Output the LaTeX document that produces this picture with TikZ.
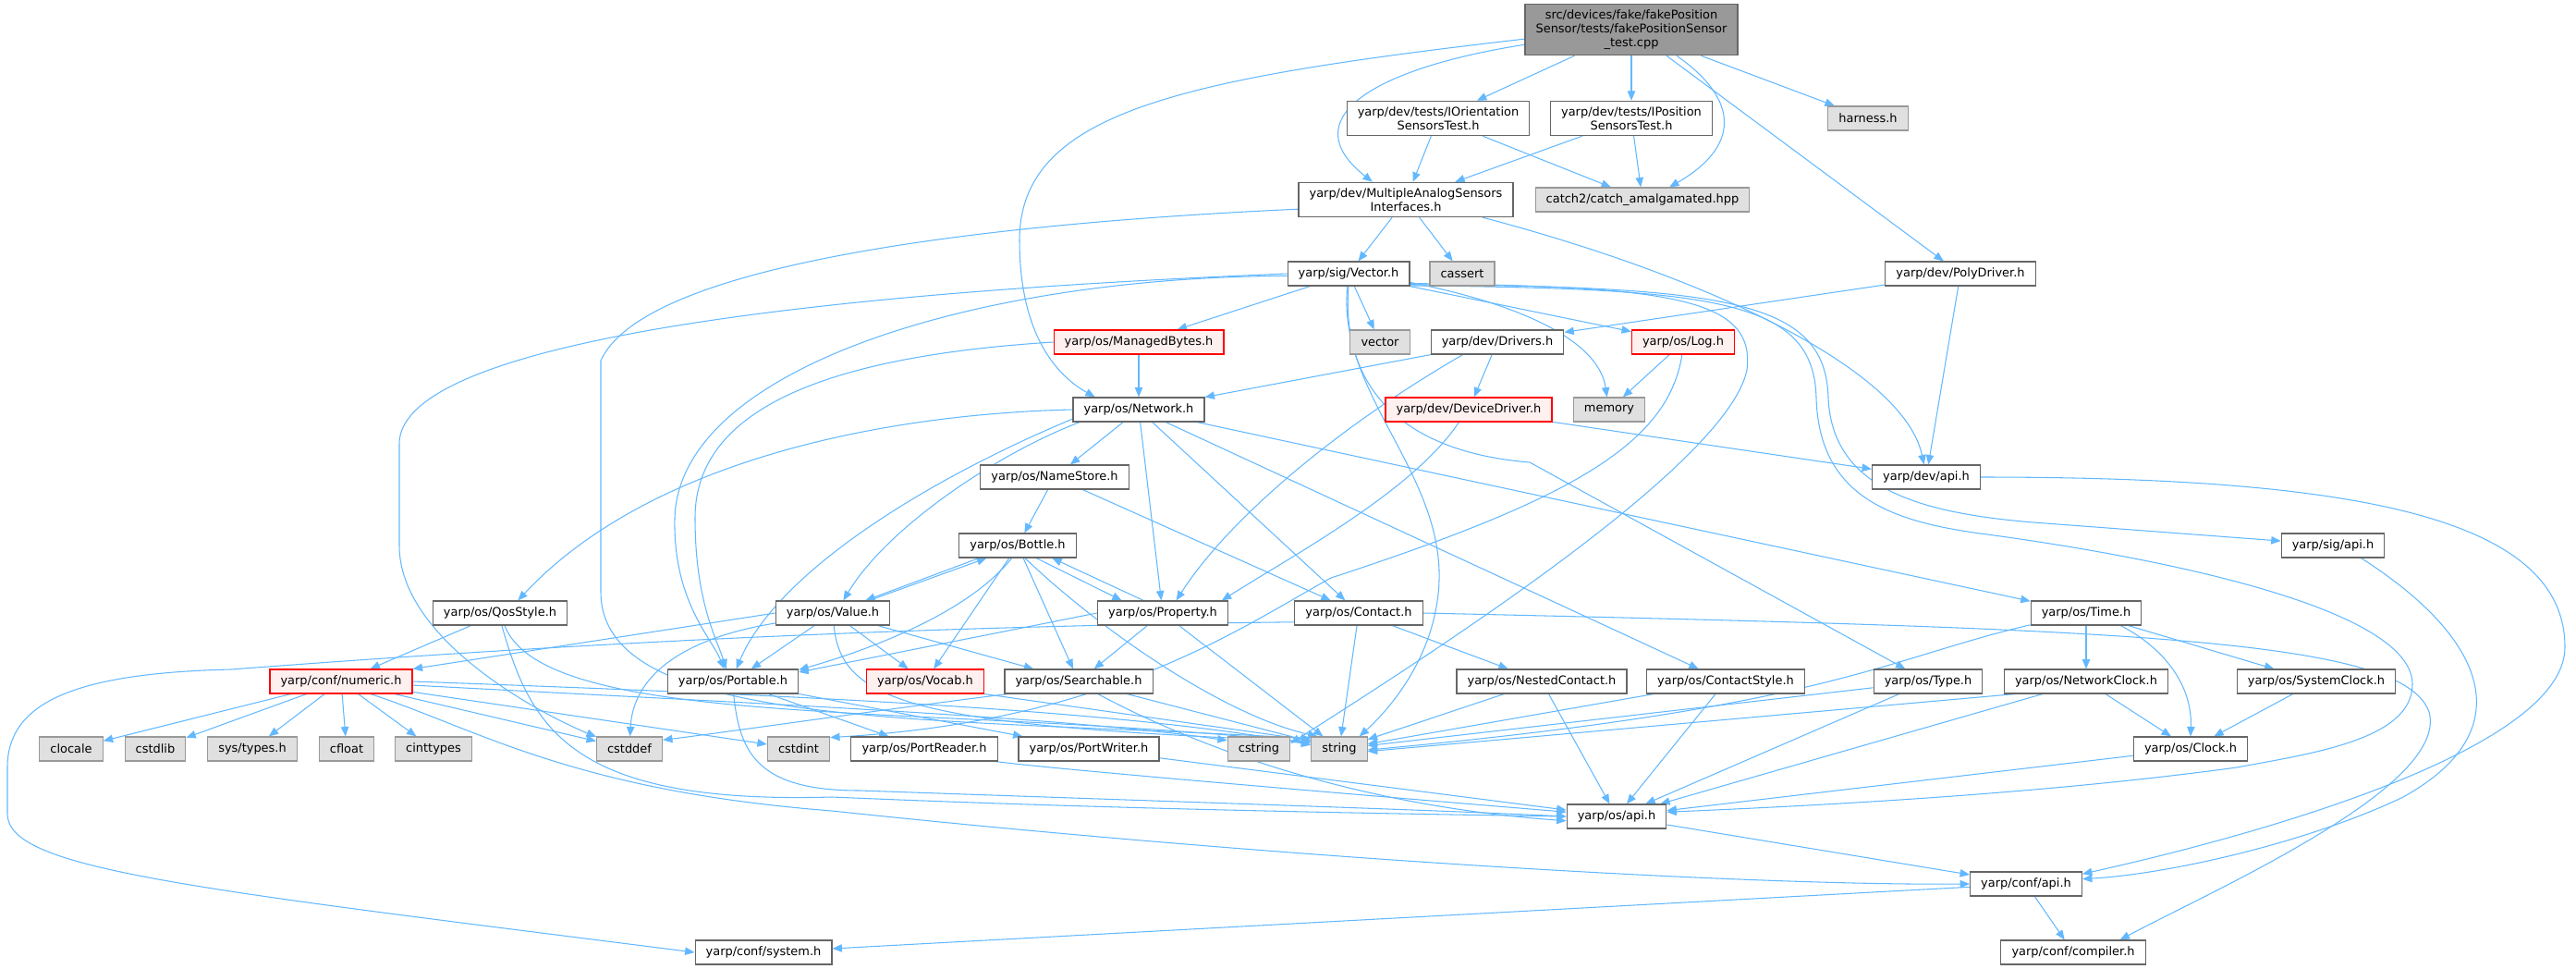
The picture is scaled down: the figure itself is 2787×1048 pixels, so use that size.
\documentclass[tikz,border=0pt]{standalone}
\usepackage{fontspec}
\setmainfont{DejaVu Sans}
\usepackage{tikz}
\usetikzlibrary{arrows.meta,backgrounds}
\definecolor{gris40}{HTML}{666666}
\definecolor{gris60}{HTML}{999999}
\definecolor{gris88}{HTML}{E0E0E0}
\definecolor{rougepale}{HTML}{FFF0F0}
\definecolor{bleuacier}{HTML}{63B8FF}
\tikzset{
  incnode/.style = {rectangle, align=center, inner xsep=2.9mm, inner ysep=1.5mm,
    minimum height=6.5mm, line width=0.8pt, font=\fontsize{9.2}{10.9}\selectfont},
  inc_n/.style = {incnode, draw=gris40, fill=white},% en-tete yarp
  inc_s/.style = {incnode, draw=gris60, fill=gris88},% en-tete systeme
  inc_r/.style = {incnode, draw=red, fill=rougepale},% en-tete tronque
  inc_top/.style = {incnode, draw=gris40, fill=gris60},% fichier source
  dep/.style = {draw=bleuacier, line width=0.75pt,
    -{Triangle[length=2.6mm,width=2.1mm]}}% inclusion
}
\begin{document}
\begin{tikzpicture}[x=0.25mm,y=-0.25mm]
        \useasboundingbox (0,0) rectangle (2787,1048);
        \node [inc_top] (root) at (1765,32) {src/devices/fake/fakePosition\\Sensor/tests/fakePositionSensor\\\_test.cpp};
        \node [inc_n] (iori) at (1556,128) {yarp/dev/tests/IOrientation\\SensorsTest.h};
        \node [inc_n] (ipos) at (1765,128) {yarp/dev/tests/IPosition\\SensorsTest.h};
        \node [inc_s] (harness) at (2021,128) {harness.h};
        \node [inc_n] (masi) at (1521,216) {yarp/dev/MultipleAnalogSensors\\Interfaces.h};
        \node [inc_s] (catch) at (1777,216) {catch2/catch\_amalgamated.hpp};
        \node [inc_n] (vec) at (1459,296) {yarp/sig/Vector.h};
        \node [inc_s] (cassert) at (1582,296) {cassert};
        \node [inc_n] (poly) at (2121,296) {yarp/dev/PolyDriver.h};
        \node [inc_r] (mbytes) at (1232,370) {yarp/os/ManagedBytes.h};
        \node [inc_s] (vector) at (1493,370) {vector};
        \node [inc_n] (drivers) at (1620,370) {yarp/dev/Drivers.h};
        \node [inc_r] (log) at (1821,370) {yarp/os/Log.h};
        \node [inc_n] (net) at (1232,443) {yarp/os/Network.h};
        \node [inc_r] (devdrv) at (1589,443) {yarp/dev/DeviceDriver.h};
        \node [inc_s] (memory) at (1741,443) {memory};
        \node [inc_n] (names) at (1141,516) {yarp/os/NameStore.h};
        \node [inc_n] (devapi) at (2084,516) {yarp/dev/api.h};
        \node [inc_n] (bottle) at (1101,590) {yarp/os/Bottle.h};
        \node [inc_n] (sigapi) at (2524,590) {yarp/sig/api.h};
        \node [inc_n] (qos) at (541,663) {yarp/os/QosStyle.h};
        \node [inc_n] (value) at (901,663) {yarp/os/Value.h};
        \node [inc_n] (prop) at (1258,663) {yarp/os/Property.h};
        \node [inc_n] (contact) at (1470,663) {yarp/os/Contact.h};
        \node [inc_n] (time) at (2257,663) {yarp/os/Time.h};
        \node [inc_r] (numeric) at (369,737) {yarp/conf/numeric.h};
        \node [inc_n] (portable) at (793,737) {yarp/os/Portable.h};
        \node [inc_r] (vocab) at (1001,737) {yarp/os/Vocab.h};
        \node [inc_n] (search) at (1167,737) {yarp/os/Searchable.h};
        \node [inc_n] (nested) at (1668,737) {yarp/os/NestedContact.h};
        \node [inc_n] (cstyle) at (1867,737) {yarp/os/ContactStyle.h};
        \node [inc_n] (type) at (2086,737) {yarp/os/Type.h};
        \node [inc_n] (nclock) at (2257,737) {yarp/os/NetworkClock.h};
        \node [inc_n] (sclock) at (2506,737) {yarp/os/SystemClock.h};
        \node [inc_s] (clocale) at (77,810) {clocale};
        \node [inc_s] (cstdlib) at (168,810) {cstdlib};
        \node [inc_s] (systypes) at (273,810) {sys/types.h};
        \node [inc_s] (cfloat) at (375,810) {cfloat};
        \node [inc_s] (cinttypes) at (469,810) {cinttypes};
        \node [inc_s] (cstddef) at (681,810) {cstddef};
        \node [inc_s] (cstdint) at (864,810) {cstdint};
        \node [inc_n] (preader) at (1000,810) {yarp/os/PortReader.h};
        \node [inc_n] (pwriter) at (1178,810) {yarp/os/PortWriter.h};
        \node [inc_s] (cstring) at (1362,810) {cstring};
        \node [inc_s] (string) at (1449,810) {string};
        \node [inc_n] (clock) at (2370,810) {yarp/os/Clock.h};
        \node [inc_n] (osapi) at (1749,883) {yarp/os/api.h};
        \node [inc_n] (confapi) at (2192,956) {yarp/conf/api.h};
        \node [inc_n] (system) at (826,1030) {yarp/conf/system.h};
        \node [inc_n] (compiler) at (2243,1030) {yarp/conf/compiler.h};
        \begin{scope}[on background layer]
        \draw [dep] (root.185) .. controls (1280,85) and (1103,120) .. (1103,260) .. controls (1103,370) and (1150,410) .. (net.164);
        \draw [dep] (root.188) .. controls (1480,75) and (1400,130) .. (masi.152);
        \draw [dep] (root) -- (iori);
        \draw [dep] (root) -- (ipos);
        \draw [dep] (root.-30) .. controls (1885,110) and (1880,160) .. (catch.25);
        \draw [dep] (root) -- (harness);
        \draw [dep] (root) -- (poly);
        \draw [dep] (iori) -- (masi);
        \draw [dep] (iori) -- (catch);
        \draw [dep] (ipos) -- (masi);
        \draw [dep] (ipos) -- (catch);
        \draw [dep] (masi) -- (vec);
        \draw [dep] (masi) -- (cassert);
        \draw [dep] (masi.-13) .. controls (1850,300) and (2060,400) .. (devapi.100);
        \draw [dep] (masi.185) .. controls (1100,240) and (700,280) .. (650,390) -- (650,640) .. controls (650,790) and (1000,775) .. (string.160);
        \draw [dep] (vec) -- (mbytes);
        \draw [dep] (vec) -- (vector);
        \draw [dep] (vec) -- (log);
        \draw [dep] (vec.-8) .. controls (1650,330) and (1730,370) .. (memory.100);
        \draw [dep] (vec.west) .. controls (800,320) and (432,380) .. (432,480) -- (432,590) .. controls (432,690) and (580,770) .. (cstddef.160);
        \draw [dep] (vec.182) .. controls (1050,300) and (735,400) .. (730,560) .. controls (728,650) and (770,690) .. (portable.125);
        \draw [dep] (vec.-95) .. controls (1445,430) and (1575,520) .. (1555,650) .. controls (1545,720) and (1500,770) .. (string.32);
        \draw [dep] (vec.-90) .. controls (1450,430) and (1530,490) .. (1655,500) -- (type);
        \draw [dep] (vec.-9) .. controls (1800,310) and (1900,320) .. (1890,400) .. controls (1870,500) and (1560,700) .. (cstring.10);
        \draw [dep] (vec.-10) .. controls (1870,310) and (1975,325) .. (1978,430) .. controls (1982,530) and (2080,555) .. (2200,565) -- (sigapi.175);
        \draw [dep] (vec.-11) .. controls (1860,312) and (1962,325) .. (1965,430) .. controls (1968,540) and (2050,565) .. (2150,578) .. controls (2350,605) and (2610,660) .. (2610,740) .. controls (2610,800) and (2500,815) .. (2420,830) .. controls (2200,860) and (1950,872) .. (osapi.5);
        \draw [dep] (mbytes.west) .. controls (900,385) and (752,440) .. (752,560) .. controls (752,650) and (775,690) .. (portable.118);
        \draw [dep] (mbytes) -- (net);
        \draw [dep] (poly) -- (drivers);
        \draw [dep] (poly) -- (devapi);
        \draw [dep] (drivers) -- (net);
        \draw [dep] (drivers.200) .. controls (1450,460) and (1330,560) .. (prop.43);
        \draw [dep] (drivers) -- (devdrv);
        \draw [dep] (devdrv) -- (devapi);
        \draw [dep] (devdrv.-128) .. controls (1530,530) and (1400,600) .. (prop.12);
        \draw [dep] (log) -- (memory);
        \draw [dep] (log.-95) .. controls (1805,480) and (1700,540) .. (1440,625) .. controls (1340,680) and (1200,780) .. (cstdint.20);
        \draw [dep] (net.west) .. controls (950,448) and (700,500) .. (qos.35);
        \draw [dep] (net.192) .. controls (1080,490) and (960,570) .. (value.50);
        \draw [dep] (net.188) .. controls (1000,520) and (840,620) .. (portable.75);
        \draw [dep] (net) -- (names);
        \draw [dep] (net) -- (prop);
        \draw [dep] (net) -- (contact);
        \draw [dep] (net) -- (cstyle);
        \draw [dep] (net) -- (time);
        \draw [dep] (names) -- (bottle);
        \draw [dep] (names) -- (contact);
        \draw [dep] (bottle.198) -- (value.21);
        \draw [dep] (value.19) -- (bottle.202);
        \draw [dep] (bottle.-115) .. controls (1050,660) and (950,700) .. (portable.10);
        \draw [dep] (bottle) -- (vocab);
        \draw [dep] (bottle) -- (search);
        \draw [dep] (bottle.-60) .. controls (1200,690) and (1330,775) .. (string.150);
        \draw [dep] (bottle.-34) -- (prop.163);
        \draw [dep] (prop.147) -- (bottle.-20);
        \draw [dep] (value) -- (portable);
        \draw [dep] (value.west) -- (numeric.north east);
        \draw [dep] (value.190) .. controls (740,690) and (685,730) .. (cstddef);
        \draw [dep] (value) -- (vocab);
        \draw [dep] (value) -- (search);
        \draw [dep] (value.-85) .. controls (910,760) and (990,785) .. (string.165);
        \draw [dep] (prop.west) -- (portable.8);
        \draw [dep] (prop) -- (search);
        \draw [dep] (prop) -- (string);
        \draw [dep] (contact) -- (string);
        \draw [dep] (contact) -- (nested);
        \draw [dep] (contact.188) .. controls (900,678) and (500,705) .. (250,724) .. controls (80,728) and (8,760) .. (8,830) -- (8,880) .. controls (8,940) and (200,960) .. (system.west);
        \draw [dep] (contact.east) .. controls (2300,680) and (2600,690) .. (2628,770) .. controls (2650,850) and (2400,960) .. (compiler.15);
        \draw [dep] (qos) -- (numeric);
        \draw [dep] (qos.-70) .. controls (590,790) and (1000,760) .. (string.168);
        \draw [dep] (qos.-82) .. controls (575,790) and (620,870) .. (900,862) .. controls (1200,875) and (1500,880) .. (osapi.west);
        \draw [dep] (numeric) -- (clocale);
        \draw [dep] (numeric) -- (cstdlib);
        \draw [dep] (numeric) -- (systypes);
        \draw [dep] (numeric) -- (cfloat);
        \draw [dep] (numeric) -- (cinttypes);
        \draw [dep] (numeric) -- (cstddef);
        \draw [dep] (numeric) -- (cstdint);
        \draw [dep] (numeric.east) .. controls (800,750) and (1200,765) .. (string.172);
        \draw [dep] (numeric.-3) .. controls (800,760) and (1150,775) .. (cstring.165);
        \draw [dep] (numeric.-23) .. controls (520,790) and (620,855) .. (900,877) .. controls (1400,930) and (1900,958) .. (confapi.west);
        \draw [dep] (portable) -- (preader);
        \draw [dep] (portable) -- (pwriter);
        \draw [dep] (portable.-87) .. controls (800,815) and (820,855) .. (930,855) .. controls (1300,868) and (1550,876) .. (osapi.west);
        \draw [dep] (preader.-10) .. controls (1150,833) and (1500,862) .. (osapi.175);
        \draw [dep] (pwriter) -- (osapi);
        \draw [dep] (vocab.-12) -- (string.163);
        \draw [dep] (search.190) .. controls (950,768) and (800,790) .. (cstddef.15);
        \draw [dep] (search) -- (string);
        \draw [dep] (search.-33) .. controls (1280,800) and (1450,870) .. (osapi.185);
        \draw [dep] (nested) -- (string);
        \draw [dep] (nested) -- (osapi);
        \draw [dep] (cstyle) -- (string);
        \draw [dep] (cstyle) -- (osapi);
        \draw [dep] (type) -- (string);
        \draw [dep] (type) -- (osapi);
        \draw [dep] (time.192) .. controls (2040,712) and (1980,765) .. (string.-2);
        \draw [dep] (time) -- (nclock);
        \draw [dep] (time.-20) .. controls (2340,700) and (2372,740) .. (clock.north);
        \draw [dep] (time) -- (sclock);
        \draw [dep] (nclock.190) -- (string.-5);
        \draw [dep] (nclock) -- (clock);
        \draw [dep] (nclock) -- (osapi);
        \draw [dep] (sclock) -- (clock);
        \draw [dep] (clock) -- (osapi);
        \draw [dep] (osapi) -- (confapi);
        \draw [dep] (devapi.east) .. controls (2550,516) and (2775,560) .. (2775,700) .. controls (2775,800) and (2500,890) .. (confapi.10);
        \draw [dep] (sigapi.-24) .. controls (2690,690) and (2730,790) .. (2600,862) .. controls (2500,910) and (2350,945) .. (confapi.5);
        \draw [dep] (confapi) -- (compiler);
        \draw [dep] (confapi) -- (system);
        \end{scope}
\end{tikzpicture}
\end{document}
